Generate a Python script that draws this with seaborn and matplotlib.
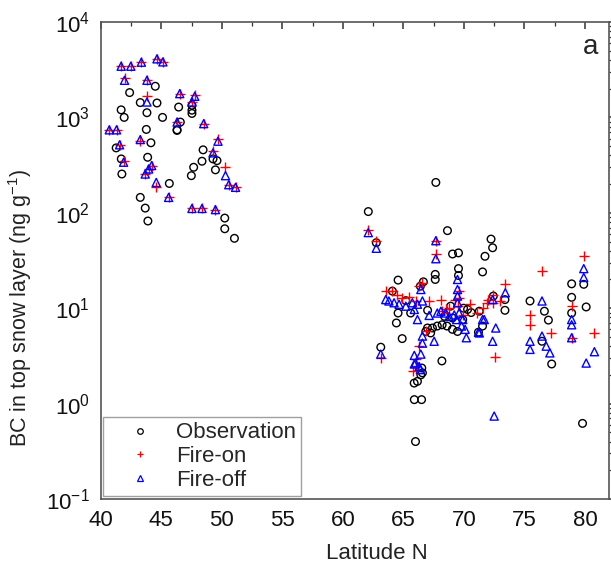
import matplotlib
matplotlib.use("Agg")
import matplotlib.pyplot as plt
import seaborn as sns
import pandas as pd
import numpy as np
from matplotlib.lines import Line2D
from matplotlib.ticker import MultipleLocator, LogLocator, NullFormatter

# ---------------- data ----------------
obs_lat = [44.5, 42.38, 43.26, 44.64, 46.43, 47.53, 47.53, 47.53, 41.68, 41.93, 43.81, 45.1,
           46.57, 46.3, 43.76, 44.14, 41.27, 48.45, 43.87, 49.27, 49.6, 41.69, 48.36, 47.67,
           49.47, 41.74, 47.48, 45.66, 43.26, 43.67, 43.89, 50.24, 50.24, 51.04, 46.3,
           67.68, 62.1, 62.76, 68.64, 72.24, 72.37, 69.06, 69.55, 71.74, 71.54, 69.55, 69.55,
           67.63, 67.63, 64.56, 66.65, 66.4, 72.43, 73.39, 73.39, 75.46, 76.65, 76.98, 76.45,
           77.25, 79.9, 78.9, 78.9, 78.9, 80.1, 68.18, 64.9, 63.13, 64.09, 69.97, 70.3, 71.27,
           64.56, 64.42, 65.6, 66.99, 67.4, 67.8, 66.85, 67.25, 68.2, 68.6, 69.05, 69.47,
           69.05, 69.9, 68.4, 71.54, 66.57, 65.89, 66.16, 66.44, 66.52, 65.9, 66.5, 66.0,
           79.8, 71.2, 70.6, 68.9, 67.0, 65.2]
obs_bc = [2120, 1820, 1430, 1416, 1283, 1340, 1190, 1100, 1200, 1000, 1120, 1000,
          893, 741, 748, 542, 479, 457, 382, 367, 352, 367, 347, 300,
          282, 255, 245, 203, 145, 112, 82, 88, 68, 54, 730,
          208, 103, 48.6, 65, 53, 43, 37, 38, 35, 24, 26, 22,
          22.6, 20, 19.7, 18.9, 17, 13.4, 12.3, 9.5, 11.9, 9.3, 7.5, 4.5,
          2.6, 17.8, 18, 13, 8.9, 10.3, 2.8, 4.8, 3.9, 15.1, 10, 9.7, 9.3,
          8.9, 7.0, 8.9, 6.2, 6.2, 6.5, 5.7, 5.5, 6.7, 6.5, 6.0, 5.7,
          7.9, 7.6, 8.2, 6.5, 2.1, 1.64, 1.71, 2.0, 2.36, 1.1, 1.1, 0.40,
          0.62, 5.6, 9.0, 10.5, 9.5, 12.0]

on_lat = [41.68, 42.48, 43.35, 44.64, 45.13, 41.96, 43.81, 43.81, 46.52, 47.76, 47.53, 46.3,
          48.5, 40.7, 41.3, 41.55, 43.26, 41.88, 49.68, 49.27, 44.2, 43.95, 43.67, 50.3,
          50.57, 51.13, 44.58, 45.6, 47.53, 48.36, 49.47,
          62.1, 62.76, 67.68, 67.68, 73.42, 76.45, 75.46, 75.46, 77.17, 79.9, 78.9, 78.9,
          80.78, 72.6, 72.37, 72.37, 63.13, 63.54, 64.09, 64.5, 64.92, 65.47, 66.03, 67.13,
          68.1, 69.3, 69.47, 68.5, 68.78, 68.2, 69.9, 71.1, 71.54, 66.85, 66.3, 66.03,
          66.03, 66.3, 66.57, 69.6, 69.6, 71.9, 72.0, 65.8, 70.5, 73.0]
on_bc = [3440, 3440, 3790, 4110, 3820, 2600, 2450, 1675, 1775, 1700, 1450, 893,
         860, 741, 741, 516, 560, 352, 590, 440, 313, 288, 255, 300,
         197, 185, 185, 145, 111, 111, 108,
         66, 50.7, 51, 37, 18, 24.5, 8.4, 6.6, 5.5, 35, 10.5, 4.9,
         5.5, 3.1, 13.9, 11.4, 3.0, 15.1, 15.1, 13.9, 12.8, 13.2, 11.9, 11.9,
         12.3, 12.3, 10.5, 9.7, 10.1, 9.3, 8.5, 8.9, 10.1, 5.7, 4.0, 2.9,
         2.5, 17, 18.5, 15.1, 12.8, 11.4, 12.3, 2.2, 11.0, 12.0]

off_lat = [41.68, 42.48, 43.35, 44.64, 45.13, 41.96, 43.81, 43.81, 46.52, 47.76, 47.53, 46.3,
           48.5, 40.7, 41.3, 41.55, 43.26, 41.88, 49.68, 49.27, 44.2, 43.95, 43.67, 50.3,
           50.57, 51.13, 44.58, 45.6, 47.53, 48.36, 49.47,
           62.1, 62.76, 67.68, 67.68, 73.42, 76.45, 75.46, 75.46, 76.45, 76.8, 77.1, 79.9,
           79.9, 78.9, 78.9, 78.9, 80.78, 80.1, 63.13, 72.37, 72.63, 72.37, 71.2, 71.54,
           63.54, 63.8, 64.23, 64.64, 65.2, 65.74, 66.16, 65.9, 66.16, 66.44, 66.57, 67.13,
           67.8, 68.1, 68.5, 68.78, 69.2, 69.6, 69.9, 69.47, 69.47, 69.47, 69.47, 69.4,
           69.8, 70.1, 70.2, 71.68, 71.27, 66.57, 66.57, 67.54, 66.44, 65.9, 65.9, 66.0,
           66.3, 66.4, 72.5]
off_bc = [3440, 3440, 3790, 4110, 3820, 2450, 2450, 1450, 1775, 1665, 1450, 893,
          860, 741, 741, 516, 586, 339, 563, 425, 313, 288, 255, 245,
          197, 185, 208, 145, 111, 111, 108,
          62, 42.5, 51, 33, 14.5, 11.9, 4.5, 3.7, 5.1, 4.0, 3.4, 26,
          21, 7.6, 6.7, 4.9, 3.5, 2.66, 3.3, 12.3, 6.2, 4.5, 5.6, 7.6,
          12.3, 11.9, 11.4, 11.0, 10.5, 11.4, 11.0, 9.7, 7.6, 15.7, 11.9, 8.4,
          8.9, 9.3, 8.9, 8.2, 8.5, 8.9, 7.6, 20, 15.7, 13.4, 11.4, 7.6,
          6.5, 6.0, 4.9, 7.6, 5.5, 5.1, 4.3, 4.5, 3.3, 3.2, 2.6, 2.66,
          2.45, 2.27, 0.74]

legend_labels = ["Observation", "Fire-on", "Fire-off"]
x_ticks = [40, 45, 50, 55, 60, 65, 70, 75, 80]

df_obs = pd.DataFrame({"lat": obs_lat, "bc": obs_bc})
df_on = pd.DataFrame({"lat": on_lat, "bc": on_bc})
df_off = pd.DataFrame({"lat": off_lat, "bc": off_bc})

# ---------------- plot ----------------
sns.set_theme(style="white")
plt.rcParams["font.family"] = ["Liberation Sans", "DejaVu Sans"]
plt.rcParams["mathtext.fontset"] = "custom"
plt.rcParams["mathtext.rm"] = "Liberation Sans"
plt.rcParams["mathtext.it"] = "Liberation Sans:italic"

fig = plt.figure(figsize=(6.11, 5.70), dpi=100)
ax = fig.add_axes([0.165, 0.1246, 0.832, 0.8368])

sns.scatterplot(data=df_obs, x="lat", y="bc", ax=ax, marker="o", s=30,
                facecolor="none", edgecolor="black", linewidth=1.0, zorder=3)
sns.scatterplot(data=df_on, x="lat", y="bc", ax=ax, marker="+", s=60,
                color="red", linewidth=1.0, zorder=4)
sns.scatterplot(data=df_off, x="lat", y="bc", ax=ax, marker="^", s=34,
                facecolor="none", edgecolor="blue", linewidth=1.0, zorder=5)

ax.set_yscale("log")
ax.set_ylim(0.1, 1e4)
ax.set_xlim(40, 82)
ax.set_xticks(x_ticks)
ax.xaxis.set_minor_locator(MultipleLocator(2.5))
ax.yaxis.set_major_locator(LogLocator(base=10, numticks=10))
ax.yaxis.set_minor_locator(LogLocator(base=10, subs=np.arange(2, 10), numticks=100))
ax.yaxis.set_minor_formatter(NullFormatter())

for sp in ax.spines.values():
    sp.set_color("#555555")
    sp.set_linewidth(1.2)

ax.tick_params(axis="both", which="major", labelsize=16, colors="#333333",
               labelcolor="#111111", length=5, width=1.1, direction="out", pad=3)
ax.tick_params(axis="both", which="minor", length=3, width=0.9, colors="#333333",
               direction="out")
ax.tick_params(top=True, right=True, which="both")
for t in ax.xaxis.get_major_ticks() + ax.xaxis.get_minor_ticks():
    t.tick2line.set_marker(3)
for t in ax.yaxis.get_major_ticks() + ax.yaxis.get_minor_ticks():
    t.tick2line.set_marker(1)

ax.set_xlabel("Latitude N", fontsize=16, color="#222222")
ax.set_ylabel("BC in top snow layer (ng g$^{-1}$)", fontsize=15.5, color="#222222")
ax.xaxis.set_label_coords(0.543, -0.093)
ax.yaxis.set_label_coords(-0.132, 0.40)

ax.text(0.978, 0.975, "a", transform=ax.transAxes, ha="right", va="top", fontsize=20)

handles = [
    Line2D([], [], linestyle="none", marker="o", markersize=4, markerfacecolor="none",
           markeredgecolor="black", markeredgewidth=0.9),
    Line2D([], [], linestyle="none", marker="+", markersize=5, color="red",
           markeredgewidth=0.9),
    Line2D([], [], linestyle="none", marker="^", markersize=4, markerfacecolor="none",
           markeredgecolor="blue", markeredgewidth=0.9),
]
leg = ax.legend(handles, legend_labels, loc="lower left", fontsize=16, frameon=True,
                fancybox=False, borderaxespad=0.12, handletextpad=0.2,
                labelspacing=0.12, borderpad=0.25, handlelength=2.8)
leg.get_frame().set_edgecolor("#888888")
leg.get_frame().set_linewidth(1.0)

fig.savefig("out.png", dpi=100)
